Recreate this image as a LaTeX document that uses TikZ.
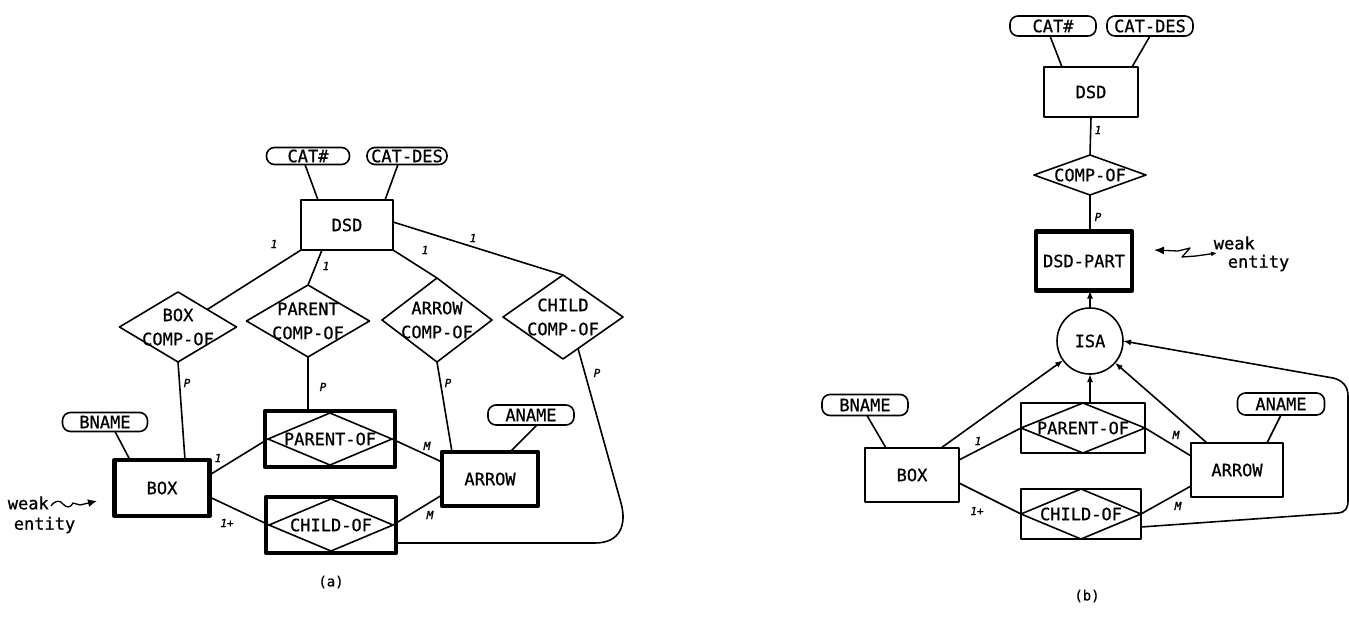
\documentclass[tikz,border=0pt]{standalone}
\usepackage{fontspec}
\newfontfamily\erfont[FakeBold=0.8]{DejaVu Sans Mono}
\newfontfamily\cardfont[FakeBold=1.5]{DejaVu Sans Mono}
\usetikzlibrary{shapes.geometric,arrows.meta,calc}
\begin{document}
\begin{tikzpicture}[x=1pt,y=-1pt,
  line width=1.6pt, line join=round,
  base/.style={draw, inner sep=0pt, outer sep=0pt, font=\erfont\fontsize{17}{24}\selectfont, align=center},
  ent/.style n args={2}{base, rectangle, minimum width=#1, minimum height=#2},
  went/.style n args={2}{ent={#1}{#2}, line width=4.5pt},
  attr/.style n args={2}{base, rectangle, rounded corners=8pt, minimum width=#1, minimum height=#2},
  rel/.style n args={2}{base, diamond, minimum width=#1, minimum height=#2},
  rt/.style={inner sep=0pt, font=\erfont\fontsize{17}{24}\selectfont, align=center},
  card/.style={inner sep=0pt, font=\cardfont\itshape\fontsize{11}{11}\selectfont},
  wtxt/.style={inner sep=0pt, font=\erfont\fontsize{17}{20}\selectfont},
  arr/.style={-{Latex[length=8pt,width=6pt]}}
]
\fill[white] (0,0) rectangle (1349,618);
\path[use as bounding box] (0,0) rectangle (1349,618);

% ---------------- (a) ----------------
\node[attr={83}{17}] (cat) at (308,156) {CAT\#};
\node[attr={80}{17}] (catd) at (407,156) {CAT-DES};
\node[ent={92}{50}] (dsd) at (347,225) {DSD};
\node[rel={117}{70}, label={[rt]center:{BOX\\COMP-OF}}] (bc) at (178,327) {};
\node[rel={123}{72}, label={[rt]center:{PARENT\\COMP-OF}}] (pc) at (308,321) {};
\node[rel={110}{84}, label={[rt]center:{ARROW\\COMP-OF}}] (ac) at (437,320) {};
\node[rel={120}{84}, label={[rt]center:{CHILD\\COMP-OF}}] (cc) at (563,317) {};
\node[went={95}{56}] (box) at (162,488) {BOX};
\node[attr={85}{19}] (bname) at (105,422) {BNAME};
\node[went={130}{56}] (pob) at (330,439) {};
\node[rel={124}{52}, label={[rt]center:PARENT-OF}] (po) at (pob) {};
\node[went={130}{56}] (cob) at (331,525) {};
\node[rel={124}{52}, label={[rt]center:CHILD-OF}] (co) at (cob) {};
\node[went={96}{54}] (arr) at (490,479) {ARROW};
\node[attr={86}{20}] (aname) at (531,415) {ANAME};

\draw ([xshift=-3pt]cat.south) -- ([xshift=-29pt]dsd.north);
\draw ([xshift=-9pt]catd.south) -- ([xshift=38pt]dsd.north);
\draw (dsd.south west) -- (bc.north east);
\draw ([xshift=-25pt]dsd.south) -- (pc.north);
\draw (dsd.south east) -- (ac.north);
\draw ([yshift=3pt]dsd.east) -- (cc.north);
\draw (bc.south) -- ([xshift=23pt]box.north);
\draw ([xshift=10pt]bname.south) -- ([xshift=-32pt]box.north);
\draw (pc.south) -- (pc.south |- pob.north);
\draw (ac.south) -- ([xshift=-38pt]arr.north);
\draw ([xshift=6pt]aname.south) -- ([xshift=20pt]arr.north);
\draw ([yshift=13pt]box.east) -- (po.west);
\draw ([yshift=-9pt]box.east) -- (co.west);
\draw (po.east) -- ([yshift=17pt]arr.west);
\draw (co.east) -- ([yshift=-16pt]arr.west);
\draw ($(cc.south)!0.25!(cc.east)$) -- (621,503) .. controls (627,525) and (620,543) .. (595,543) -- ([yshift=-18pt]cob.east);

\node[card] (a1) at (274,244) {1};
\node[card] (a2) at (326,266) {1};
\node[card] (a3) at (425,250) {1};
\node[card] (a4) at (473,238) {1};
\node[card] (a5) at (187,383) {P};
\node[card] (a6) at (323,387) {P};
\node[card] (a7) at (448,383) {P};
\node[card] (a8) at (597,373) {P};
\node[card] (a9) at (218,458) {1};
\node[card] (a10) at (227,523) {1+};
\node[card] (a11) at (427,446) {M};
\node[card] (a12) at (430,515) {M};

\node[wtxt, anchor=west] (wa1) at (7,503) {weak};
\node[wtxt, anchor=west] (wa2) at (13,525) {entity};
\draw[-{Latex[length=9pt,width=8pt]}, line width=1.3pt] (51,506) .. controls (55,500) and (60,500) .. (63,504) .. controls (66,508) and (71,508) .. (73,503) -- (80,505) -- (97,501);

\node[inner sep=0pt, font=\erfont\fontsize{14}{14}\selectfont] (capa) at (331,582) {(a)};

% ---------------- (b) ----------------
\node[attr={86}{20}] (catb) at (1053,26) {CAT\#};
\node[attr={86}{20}] (catdb) at (1150,26) {CAT-DES};
\node[ent={94}{50}] (dsdb) at (1091,92) {DSD};
\node[rel={112}{40}, label={[rt]center:COMP-OF}] (compb) at (1090,175) {};
\node[went={96}{59}] (dpart) at (1084,261) {DSD-PART};
\node[base, circle, minimum size=66pt] (isa) at (1090,341) {ISA};
\node[ent={94}{54}] (boxb) at (912,475) {BOX};
\node[attr={86}{21}] (bnameb) at (865,405) {BNAME};
\node[ent={124}{50}] (pobb) at (1083,428) {};
\node[rel={124}{50}, label={[rt]center:PARENT-OF}] (pob2) at (pobb) {};
\node[ent={120}{50}] (cobb) at (1081,514) {};
\node[rel={120}{50}, label={[rt]center:CHILD-OF}] (cob2) at (cobb) {};
\node[ent={92}{54}] (arrb) at (1237,470) {ARROW};
\node[attr={87}{22}] (anameb) at (1281,404) {ANAME};

\draw ([xshift=-3pt]catb.south) -- ([xshift=-29pt]dsdb.north);
\draw (catdb.south) -- ([xshift=41pt]dsdb.north);
\draw (dsdb.south) -- (compb.north);
\draw (compb.south) -- (compb.south |- dpart.north);
\draw[arr] (isa.north) -- (isa.north |- dpart.south);
\draw[arr] ([xshift=29pt]boxb.north) -- (isa);
\draw[arr] (pobb.north -| isa) -- (isa.south);
\draw[arr] ([xshift=-30pt]arrb.north) -- (isa);
\draw[arr] ([yshift=-13pt]cobb.east) -- (1338,513) .. controls (1346,512) and (1348,508) .. (1348,500) -- (1348,396) .. controls (1348,386) and (1342,380) .. (1333,378) -- (isa.east);
\draw ([xshift=2pt]bnameb.south) -- ([xshift=-26pt]boxb.north);
\draw (anameb.south) -- ([xshift=30pt]arrb.north);
\draw ([yshift=15pt]boxb.east) -- (pob2.west);
\draw ([yshift=-8pt]boxb.east) -- (cob2.west);
\draw (pob2.east) -- ([yshift=14pt]arrb.west);
\draw (cob2.east) -- ([yshift=-16pt]arrb.west);

\node[card] (b1) at (1098,130) {1};
\node[card] (b2) at (1098,217) {P};
\node[card] (b3) at (978,441) {1};
\node[card] (b4) at (977,511) {1+};
\node[card] (b5) at (1176,435) {M};
\node[card] (b6) at (1178,506) {M};

\node[wtxt, anchor=west] (wb1) at (1213,243) {weak};
\node[wtxt, anchor=west] (wb2) at (1227,263) {entity};
\draw[{Latex[length=10pt,width=8pt]}-{Latex[length=6pt,width=5pt]}, line width=1.3pt] (1154,250) -- (1178,251) -- (1190,248) -- (1182,257) -- (1196,256) -- (1217,253);

\node[inner sep=0pt, font=\erfont\fontsize{14}{14}\selectfont] (capb) at (1087,596) {(b)};
\end{tikzpicture}
\end{document}
